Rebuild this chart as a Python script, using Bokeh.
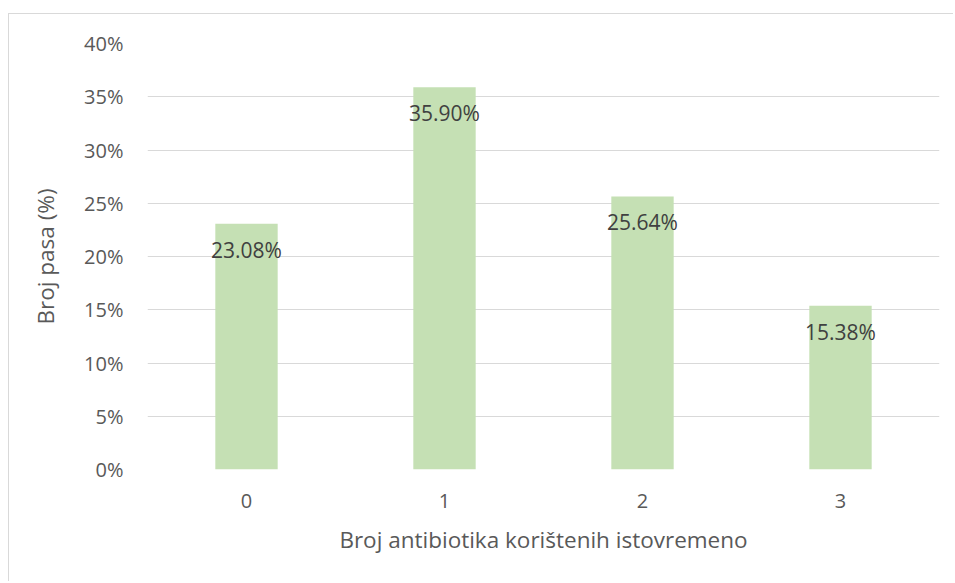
from bokeh.plotting import figure
from bokeh.embed import file_html
from bokeh.resources import INLINE
from bokeh.models import ColumnDataSource, FixedTicker, NumeralTickFormatter
from bokeh.core.properties import value

categories = ["0", "1", "2", "3"]
shares = [0.2308, 0.3590, 0.2564, 0.1538]
labels = ["23.08%", "35.90%", "25.64%", "15.38%"]
y_ticks = [0.0, 0.05, 0.10, 0.15, 0.20, 0.25, 0.30, 0.35, 0.40]

src = ColumnDataSource(dict(x=categories, y=shares, lab=labels))

FONT = "Open Sans"
p = figure(x_range=categories, y_range=(0, 0.40), width=945, height=568,
           output_backend="svg", toolbar_location=None,
           min_border_left=138, min_border_right=15, min_border_top=29,
           min_border_bottom=113)
p.styles = {"border-left": "1px solid #d9d9d9", "border-top": "1px solid #d9d9d9",
            "margin-left": "8px", "margin-top": "13px"}
p.outline_line_color = None
p.background_fill_color = "white"

p.vbar(x="x", top="y", width=0.315, source=src, color="#c5e0b4", line_color=None)
p.text(x="x", y="y", text="lab", source=src, text_align="center",
       text_baseline="middle", y_offset=26, text_color="#404040",
       text_font=value(FONT), text_font_size="21px")

p.xgrid.grid_line_color = None
p.ygrid.grid_line_color = "#d9d9d9"
p.ygrid.grid_line_width = 1
p.yaxis.ticker = FixedTicker(ticks=y_ticks)
p.yaxis.formatter = NumeralTickFormatter(format="0%")

for ax in (p.xaxis[0], p.yaxis[0]):
    ax.axis_line_color = None
    ax.major_tick_line_color = None
    ax.minor_tick_line_color = None
    ax.major_label_text_font = FONT
    ax.major_label_text_font_size = "20px"
    ax.major_label_text_color = "#595959"
    ax.axis_label_text_font = FONT
    ax.axis_label_text_font_size = "22.5px"
    ax.axis_label_text_font_style = "normal"
    ax.axis_label_text_color = "#595959"

p.yaxis.major_label_standoff = 18
p.xaxis.major_label_standoff = 18
p.xaxis.axis_label = "Broj antibiotika korištenih istovremeno"
p.yaxis.axis_label = "Broj pasa (%)"
p.xaxis.axis_label_standoff = 13
p.yaxis.axis_label_standoff = 20

open("out.html", "w").write(file_html(p, INLINE))
